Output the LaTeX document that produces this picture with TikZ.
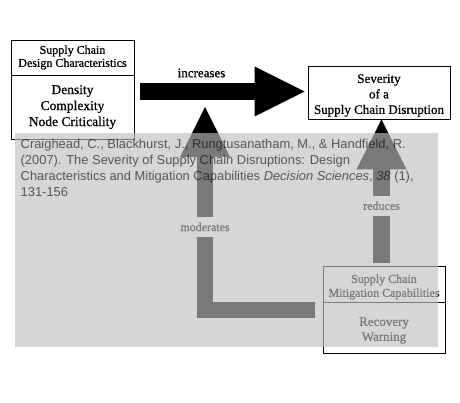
\documentclass[tikz,border=0pt]{standalone}
\usepackage{fontspec}
\setmainfont[FakeBold=0.8]{Liberation Serif}
\newfontfamily\citefont{Liberation Sans}
\usetikzlibrary{arrows.meta}
\definecolor{veil}{RGB}{191,191,191}
\tikzset{
  boxpart/.style={draw=black, line width=0.8pt, minimum width=123pt, inner sep=0pt, align=center},
  boxtext/.style={align=center, inner sep=0pt},
  bigarrow/.style={line width=17pt, -{Triangle[length=50pt,width=50pt,line width=0pt]}},
  uparrow/.style={line width=16.5pt, line join=miter, -{Triangle[length=50pt,width=50pt,line width=0pt]}},
  gaplabel/.style={fill=white, inner sep=0pt, minimum height=20pt, minimum width=60pt, font=\fontsize{12}{13}\selectfont},
}
\begin{document}
\begin{tikzpicture}[x=1pt,y=-1pt]
\useasboundingbox (0,0) rectangle (460,403);
\fill[white] (0,0) rectangle (460,403);
% left box
\node[boxpart, minimum height=35pt, font=\fontsize{12}{13}\selectfont] (dtop) at (72.5,57.5) {Supply Chain\\Design Characteristics};
\node[boxpart, minimum height=64pt, font=\fontsize{13.5}{16}\selectfont] (dbot) at (72.5,107) {Density\\Complexity\\Node Criticality};
% right box
\node[boxpart, minimum width=142pt, minimum height=53pt] (sev) at (379,92.5) {};
\node[boxtext, font=\fontsize{13}{15.5}\selectfont] (sevtext) at ([yshift=-3pt]sev.center) {Severity\\of a\\Supply Chain Disruption};
% bottom box
\node[boxpart, minimum width=122pt, minimum height=36pt] (mtop) at (384,284) {};
\node[boxtext, font=\fontsize{12}{14}\selectfont] (mtoptext) at ([yshift=-3pt]mtop.center) {Supply Chain\\Mitigation Capabilities};
\node[boxpart, minimum width=122pt, minimum height=51pt] (mbot) at (384,327.5) {};
\node[boxtext, font=\fontsize{13}{15}\selectfont] (mbottext) at ([yshift=-3pt]mbot.center) {Recovery\\Warning};
% increases arrow
\draw[bigarrow, shorten <=6pt, shorten >=3pt] (dbot.east |- 0,91.5) -- (sev.west |- 0,91.5);
\node[font=\fontsize{13}{14}\selectfont, inner sep=0pt] (inc) at (201.5,73) {increases};
\coordinate (onarrow) at (205,91.5);
% moderates arrow
\draw[uparrow, shorten <=8pt, shorten >=15.5pt] ([yshift=17.5pt]mbot.west) -- (205,310) -- (onarrow)
  node[pos=0.38, gaplabel] {moderates};
% reduces arrow
\draw[uparrow, shorten <=3pt] (381.5,0 |- mtop.north) -- (381.5,0 |- sev.south)
  node[pos=0.41, gaplabel] {reduces};
% veil
\fill[veil, opacity=0.64] (15,133) rectangle (438,347);
% citation
\node[anchor=north west, align=left, inner sep=0pt, text=black, text opacity=0.6,
  font=\citefont\fontsize{12.9}{16.3}\selectfont] (cite) at (20.5,138.5)
  {Craighead, C., Blackhurst, J., Rungtusanatham, M., \& Handfield, R.\\
   (2007). The Severity of Supply Chain Disruptions: Design\\
   Characteristics and Mitigation Capabilities \textit{Decision Sciences}, \textit{38} (1),\\
   131-156};
\end{tikzpicture}
\end{document}
